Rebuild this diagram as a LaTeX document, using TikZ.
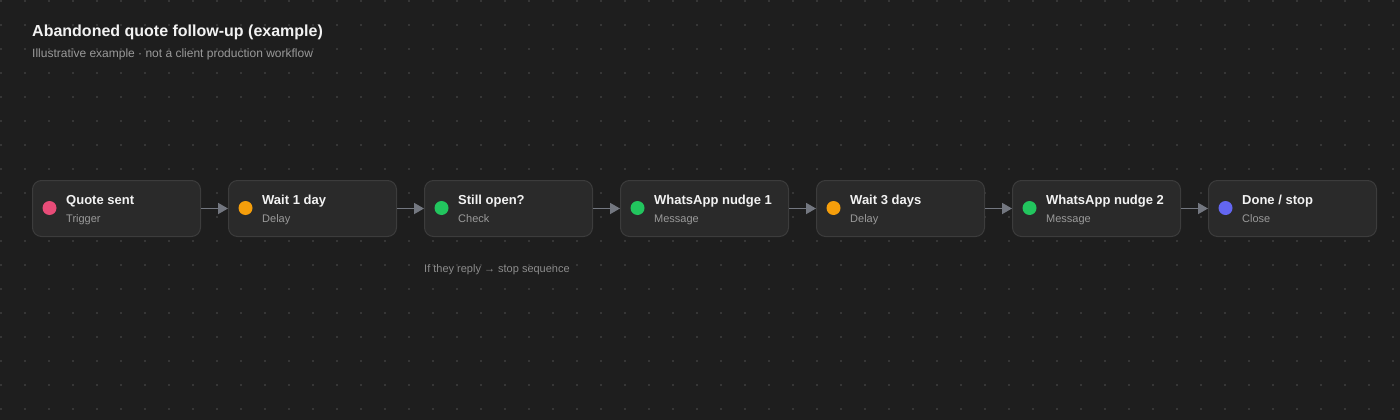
\documentclass[tikz,border=0pt]{standalone}
\usepackage{fontspec}
\setmainfont{Liberation Sans}
\usetikzlibrary{arrows.meta}
\definecolor{bg}{HTML}{1E1E1E}
\definecolor{griddot}{HTML}{363636}
\definecolor{boxfill}{HTML}{2A2A2A}
\definecolor{boxline}{HTML}{3C3C3C}
\definecolor{titlecol}{HTML}{F2F2F2}
\definecolor{subcol}{HTML}{9A9A9A}
\definecolor{notecol}{HTML}{8C8C8C}
\definecolor{arrowcol}{HTML}{737780}
\definecolor{cpink}{HTML}{E84C78}
\definecolor{corange}{HTML}{F59E0B}
\definecolor{cgreen}{HTML}{22C55E}
\definecolor{cindigo}{HTML}{6366F1}
\tikzset{
  stepbox/.style={draw=boxline, fill=boxfill, line width=1pt, rounded corners=9pt,
    minimum width=168pt, minimum height=56pt, inner sep=0pt, anchor=north west},
  stepdot/.style={circle, inner sep=0pt, minimum size=14pt},
  steptitle/.style={anchor=base west, inner sep=0pt, text=titlecol, font=\bfseries\fontsize{13}{15}\selectfont},
  stepsub/.style={anchor=base west, inner sep=0pt, text=subcol, font=\fontsize{11}{13}\selectfont},
  flow/.style={draw=arrowcol, line width=1.8pt, -{Triangle[length=10pt,width=11pt]}}
}
\newcommand{\mkstep}[5]{%
  \node[stepbox] (n#1) at ({32+196*(#1-1)},180) {};
  \node[stepdot, fill=#5] (d#1) at ({49.5+196*(#1-1)},208) {};
  \node[steptitle] (t#1) at ({66+196*(#1-1)},204) {#3};
  \node[stepsub] (s#1) at ({66+196*(#1-1)},222) {#4};
}
\begin{document}
\begin{tikzpicture}[x=1pt,y=-1pt]
\fill[bg] (0,0) rectangle (1400,420);
\useasboundingbox (0,0) rectangle (1400,420);
\foreach \i in {0,...,58} {
  \foreach \j in {0,...,17} {
    \fill[griddot] (24*\i,24*\j) rectangle ++(2,2);
  }
}
\node[anchor=base west, inner sep=0pt, text=titlecol, font=\bfseries\fontsize{16}{19}\selectfont] (title) at (32,36.5) {Abandoned quote follow-up (example)};
\node[anchor=base west, inner sep=0pt, text=subcol, font=\fontsize{12}{14}\selectfont] (subtitle) at (32,57.5) {Illustrative example · not a client production workflow};

\mkstep{1}{}{Quote sent}{Trigger}{cpink}
\mkstep{2}{}{Wait 1 day}{Delay}{corange}
\mkstep{3}{}{Still open?}{Check}{cgreen}
\mkstep{4}{}{WhatsApp nudge 1}{Message}{cgreen}
\mkstep{5}{}{Wait 3 days}{Delay}{corange}
\mkstep{6}{}{WhatsApp nudge 2}{Message}{cgreen}
\mkstep{7}{}{Done / stop}{Close}{cindigo}

\draw[flow] (n1.east) -- (n2.west);
\draw[flow] (n2.east) -- (n3.west);
\draw[flow] (n3.east) -- (n4.west);
\draw[flow] (n4.east) -- (n5.west);
\draw[flow] (n5.east) -- (n6.west);
\draw[flow] (n6.east) -- (n7.west);

\node[anchor=base west, inner sep=0pt, text=notecol, font=\fontsize{11}{13}\selectfont] (note) at (424,272) {If they reply → stop sequence};
\end{tikzpicture}
\end{document}
